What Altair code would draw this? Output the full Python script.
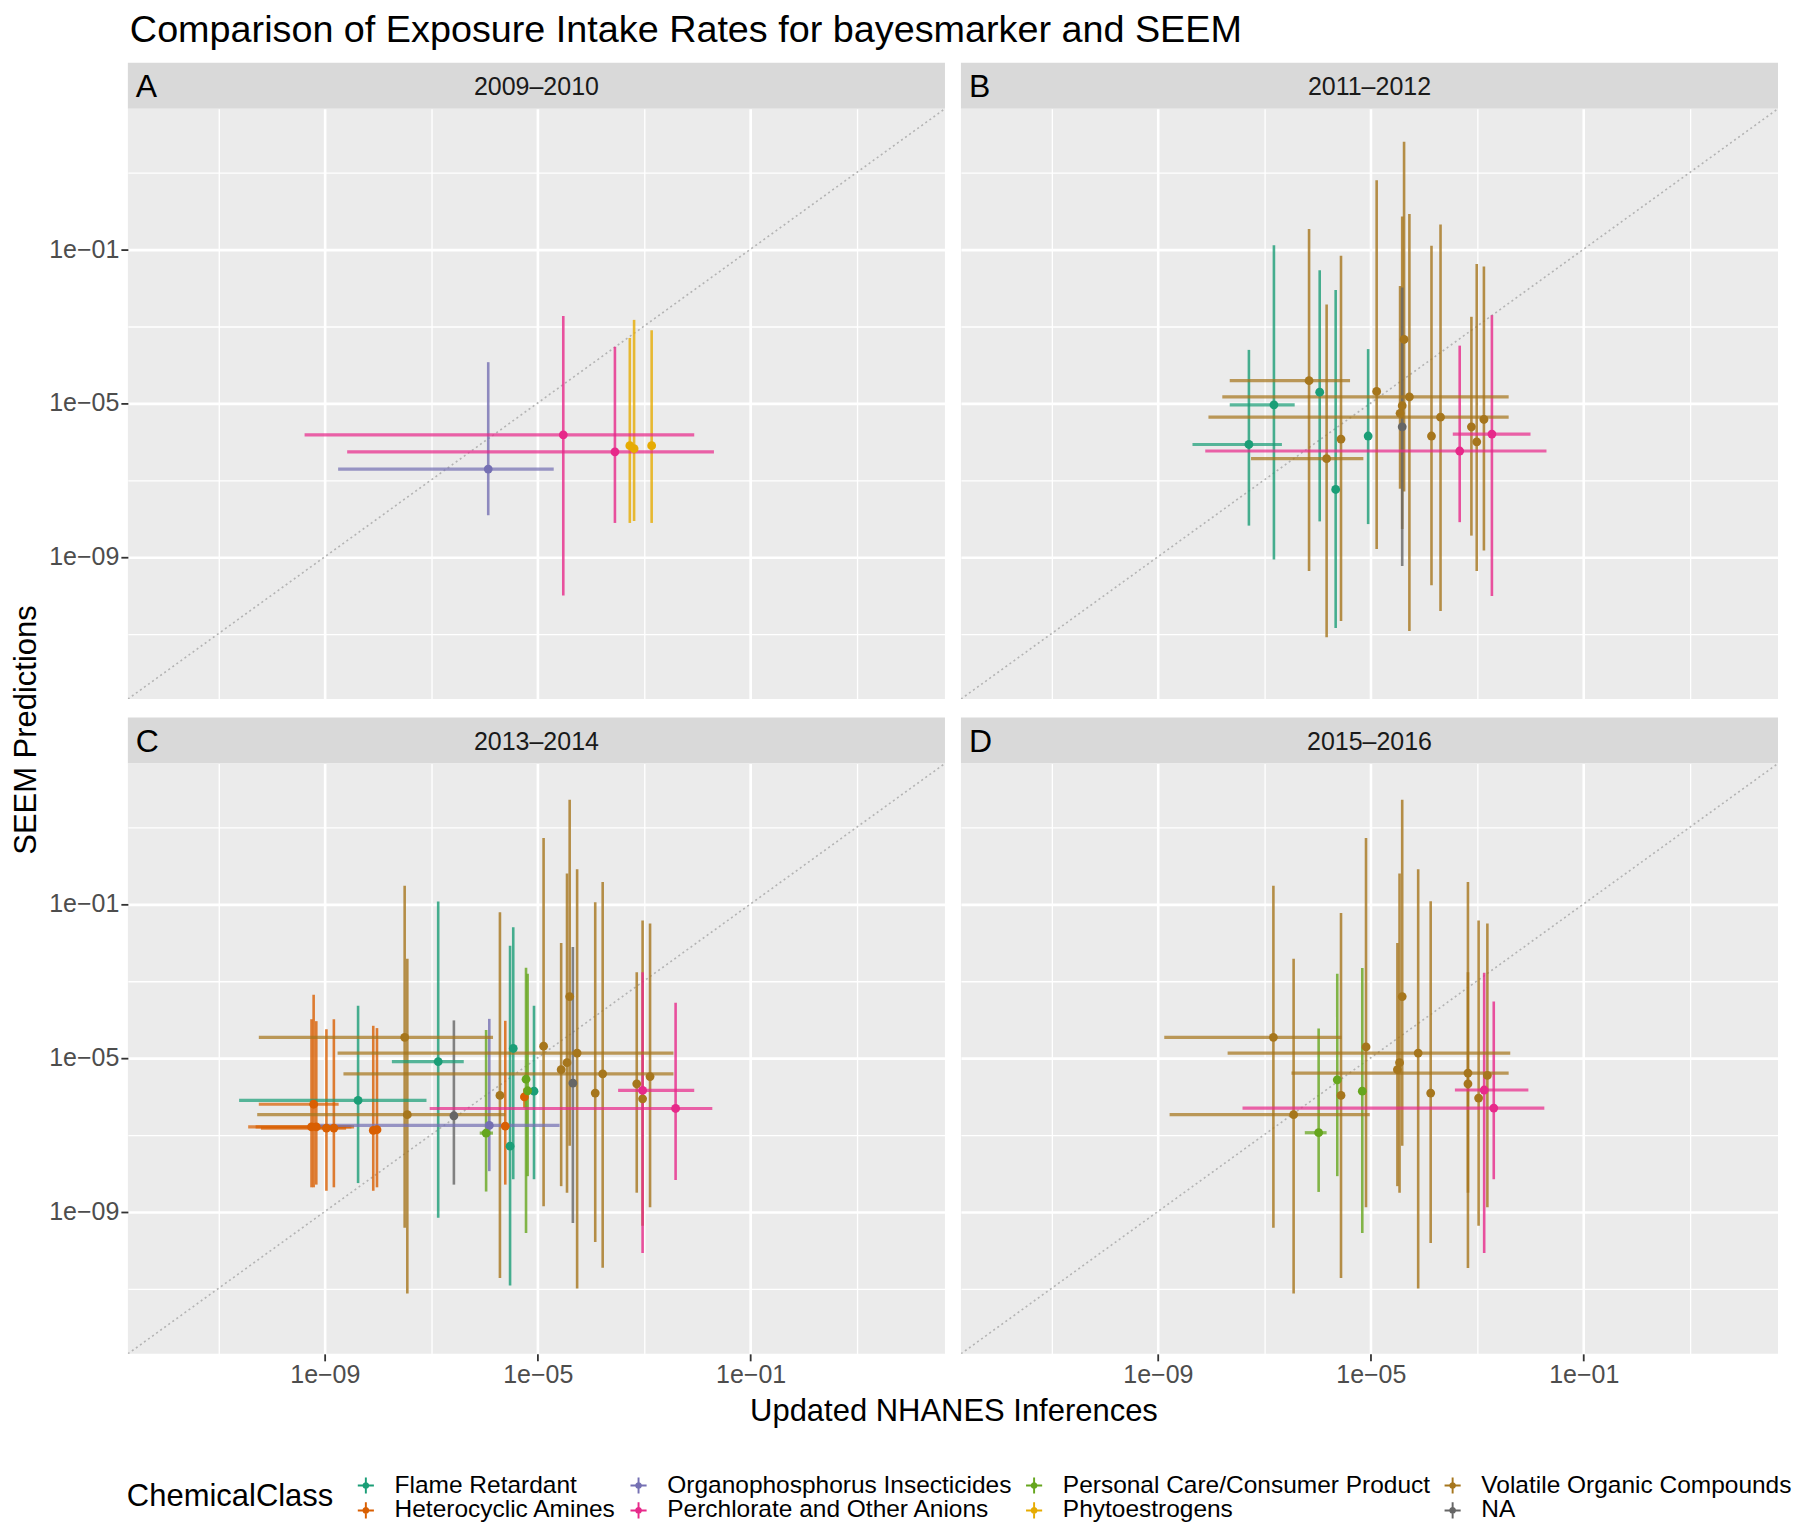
import altair as alt
import pandas as pd

TITLE = "Comparison of Exposure Intake Rates for bayesmarker and SEEM"
X_TITLE = "Updated NHANES Inferences"
Y_TITLE = "SEEM Predictions"
LEGEND_TITLE = "ChemicalClass"

CLASS_NAMES = {
    "FR": "Flame Retardant",
    "HA": "Heterocyclic Amines",
    "OP": "Organophosphorus Insecticides",
    "PC": "Perchlorate and Other Anions",
    "PCCP": "Personal Care/Consumer Product",
    "PH": "Phytoestrogens",
    "VOC": "Volatile Organic Compounds",
    "NA": "NA",
}
# legend is 2 rows x 4 columns, filled column by column
LEGEND_DOMAIN = ["Flame Retardant", "Organophosphorus Insecticides", "Personal Care/Consumer Product",
                 "Volatile Organic Compounds", "Heterocyclic Amines", "Perchlorate and Other Anions",
                 "Phytoestrogens", "NA"]
LEGEND_RANGE = ["#1B9E77", "#7570B3", "#66A61E", "#A6761D", "#D95F02", "#E7298A", "#E6AB02", "#666666"]

PANEL_LETTERS = ["A", "B", "C", "D"]
PANEL_PERIODS = ["2009\u20132010", "2011\u20132012", "2013\u20132014", "2015\u20132016"]

# axis limits and ticks (log10 units)
LOG_LIMITS = [-12.7, 2.65]
TICK_EXPONENTS = [-11, -9, -7, -5, -3, -1, 1]

# ---- values in log10 units ----
# Panel A: 2009-2010
A_cls = ["OP", "PC", "PC", "PH", "PH", "PH"]
A_x = [-5.93, -4.52, -3.55, -3.27, -3.19, -2.86]
A_y = [-6.72, -5.83, -6.27, -6.11, -6.19, -6.11]
A_ylo = [-7.92, -10.01, -8.12, -8.12, -8.07, -8.12]
A_yhi = [-3.94, -2.74, -3.54, -3.31, -2.84, -3.11]
A_xlo = [-8.75, -9.38, -8.58, None, None, None]
A_xhi = [-4.70, -2.06, -1.69, None, None, None]

# Panel B: 2011-2012
B_cls = ["FR", "FR", "FR", "FR", "FR",
         "VOC", "VOC", "VOC", "VOC", "VOC", "VOC", "VOC", "VOC", "VOC", "VOC", "VOC", "VOC", "VOC",
         "PC", "PC", "NA"]
B_x = [-7.29, -6.82, -5.96, -5.66, -5.05,
       -6.16, -5.83, -5.56, -4.89, -4.375, -4.275, -4.41, -4.45, -3.86, -3.69, -3.11, -3.01, -2.875,
       -3.33, -2.725, -4.41]
B_y = [-6.08, -5.05, -4.72, -7.25, -5.86,
       -4.42, -6.45, -5.94, -4.70, -3.35, -4.84, -5.07, -5.27, -5.86, -5.37, -5.62, -6.01, -5.43,
       -6.25, -5.81, -5.62]
B_ylo = [-8.19, -9.07, -8.08, -10.85, -8.15,
         -9.37, -11.09, -10.67, -8.80, -7.30, -10.93, -8.28, -7.23, -9.74, -10.41, -8.45, -9.37, -8.84,
         -8.10, -10.02, -9.24]
B_yhi = [-3.62, -0.90, -1.55, -2.06, -3.60,
         -0.48, -2.44, -1.17, 0.79, 1.79, -0.085, -0.15, -1.96, -0.91, -0.36, -2.76, -1.39, -1.45,
         -3.51, -2.72, -2.00]
B_xlo = [-8.35, -7.65, None, None, None,
         -7.65, -7.25, None, None, None, -7.79, None, None, None, -8.05, None, None, None,
         -8.11, -3.46, None]
B_xhi = [-6.67, -6.43, None, None, None,
         -5.39, -5.14, None, None, None, -2.41, None, None, None, -2.41, None, None, None,
         -1.70, -2.00, None]

# Panel C: 2013-2014
C_cls = ["HA", "HA", "HA", "HA", "HA", "HA", "HA", "HA", "HA",
         "FR", "FR", "FR", "FR", "FR",
         "VOC", "VOC", "VOC", "VOC", "VOC", "VOC", "VOC", "VOC", "VOC", "VOC", "VOC", "VOC", "VOC",
         "NA", "NA", "OP", "PCCP", "PCCP", "PCCP", "PC", "PC"]
C_x = [-9.21, -9.25, -9.16, -8.97, -8.83, -8.09, -8.02, -5.61, -5.25,
       -8.375, -6.87, -5.46, -5.52, -5.07,
       -7.50, -7.45, -5.71, -4.89, -4.56, -4.45, -4.40, -4.26, -3.78, -3.92, -3.14, -3.03, -2.89,
       -6.575, -4.34, -5.91, -5.97, -5.22, -5.19, -3.03, -2.41]
C_y = [-6.21, -6.80, -6.80, -6.83, -6.83, -6.89, -6.87, -6.78, -6.02,
       -6.11, -5.10, -4.76, -7.30, -5.87,
       -4.47, -6.48, -5.98, -4.70, -5.31, -5.13, -3.41, -4.88, -5.42, -5.92, -5.68, -6.07, -5.49,
       -6.51, -5.66, -6.76, -6.96, -5.56, -5.86, -5.85, -6.32]
C_ylo = [-8.37, -8.37, -8.30, -8.46, -8.37, -8.46, -8.37, -8.30, -6.30,
         -8.26, -9.16, -8.16, -10.92, -8.16,
         -9.42, -11.13, -10.73, -8.86, -8.34, -8.51, -7.29, -11.00, -10.46, -9.79, -8.51, -9.37, -8.89,
         -8.30, -9.30, -7.95, -8.48, -9.56, -8.08, -10.08, -8.18]
C_yhi = [-3.36, -4.00, -4.05, -4.26, -4.00, -4.17, -4.23, -4.04, -5.80,
         -3.65, -0.94, -1.61, -2.09, -3.65,
         -0.53, -2.43, -1.22, 0.71, -2.02, -0.21, 1.71, -0.10, -0.43, -0.96, -2.78, -1.43, -1.51,
         -4.03, -2.12, -3.99, -4.28, -2.66, -2.82, -2.78, -3.57]
C_xlo = [-10.24, -10.44, -10.30, -10.20, None, None, None, None, None,
         -10.61, -7.74, None, None, None,
         -10.24, -10.27, None, None, None, None, None, -8.76, -8.65, None, None, None, None,
         None, None, -9.16, -6.09, None, None, -3.49, -7.03]
C_xhi = [-8.74, -8.50, -8.45, -8.60, None, None, None, None, None,
         -7.09, -6.39, None, None, None,
         -5.84, -5.61, None, None, None, None, None, -2.45, -2.45, None, None, None, None,
         None, None, -4.59, -5.84, None, None, -2.06, -1.72]

# Panel D: 2015-2016
D_cls = ["VOC", "VOC", "VOC", "VOC", "VOC", "VOC", "VOC", "VOC", "VOC", "VOC", "VOC", "VOC", "VOC",
         "PCCP", "PCCP", "PCCP", "PC", "PC"]
D_x = [-6.83, -6.45, -5.56, -5.09, -4.50, -4.46, -4.41, -4.11, -3.875, -3.175, -3.175, -2.975, -2.81,
       -5.98, -5.63, -5.16, -2.87, -2.69]
D_y = [-4.47, -6.48, -5.98, -4.72, -5.31, -5.13, -3.41, -4.88, -5.92, -5.40, -5.68, -6.05, -5.46,
       -6.95, -5.575, -5.87, -5.84, -6.31]
D_ylo = [-9.42, -11.13, -10.73, -8.89, -8.34, -8.51, -7.29, -11.00, -9.82, -10.47, -8.51, -9.37, -8.89,
         -8.49, -8.08, -9.56, -10.08, -8.16]
D_yhi = [-0.53, -2.43, -1.24, 0.71, -2.02, -0.21, 1.71, -0.10, -0.93, -0.43, -2.78, -1.43, -1.51,
         -4.24, -2.82, -2.67, -2.79, -3.54]
D_xlo = [-8.88, -8.78, None, None, None, None, None, -7.69, None, -6.49, None, None, None,
         -6.24, None, None, -3.42, -7.41]
D_xhi = [-5.55, -5.02, None, None, None, None, None, -2.38, None, -2.41, None, None, None,
         -5.83, None, None, -2.04, -1.74]

PANEL_DATA = [
    (A_cls, A_x, A_y, A_ylo, A_yhi, A_xlo, A_xhi),
    (B_cls, B_x, B_y, B_ylo, B_yhi, B_xlo, B_xhi),
    (C_cls, C_x, C_y, C_ylo, C_yhi, C_xlo, C_xhi),
    (D_cls, D_x, D_y, D_ylo, D_yhi, D_xlo, D_xhi),
]

# ---- layout constants ----
PW, PH = 818, 591      # plot area of one panel
SH = 46                # strip height
HSPACE = 16
VSPACE = 18.5
FONT = "Liberation Sans"


def p10(v):
    return None if v is None else 10.0 ** v


DOMAIN = [p10(LOG_LIMITS[0]), p10(LOG_LIMITS[1])]
TICK_VALUES = [p10(e) for e in TICK_EXPONENTS]
EXP = "round(log(datum.value) / LN10)"
MAJOR_TEST = EXP + " % 4 == -1"
LABEL_EXPR = ("(" + MAJOR_TEST + ") ? '1e\u2212' + (abs(" + EXP + ") < 10 ? '0' : '') + abs(" + EXP + ") : ''")


def make_axis(show):
    kw = dict(values=TICK_VALUES, grid=True, gridColor="white",
              gridWidth={"condition": {"test": MAJOR_TEST, "value": 2.6}, "value": 1.3},
              domain=False, title=None, labelFlush=False, labelOverlap=False)
    if show:
        kw.update(labels=True, ticks=True, tickSize=7, tickWidth=1.8,
                  tickColor={"condition": {"test": MAJOR_TEST, "value": "#333333"},
                             "value": "rgba(0,0,0,0)"},
                  labelExpr=LABEL_EXPR, labelFontSize=25, labelColor="#4D4D4D",
                  labelPadding=2, labelFont=FONT)
    else:
        kw.update(labels=False, ticks=False)
    return alt.Axis(**kw)


XS = alt.Scale(type="log", domain=DOMAIN, nice=False)
YS = alt.Scale(type="log", domain=DOMAIN, nice=False)

SYMBOL_PATH = ("M-1,-0.12H1V0.12H-1Z M-0.12,-1H0.12V1H-0.12Z "
               "M0.42,0A0.42,0.42,0,1,1,-0.42,0A0.42,0.42,0,1,1,0.42,0Z")

LEGEND = alt.Legend(
    title=LEGEND_TITLE, orient="none", legendX=119, legendY=1412,
    direction="horizontal", columns=4, titleOrient="left",
    titleFontSize=31, titleFontWeight="normal", titleColor="black", titleFont=FONT,
    titlePadding=20, titleAnchor="middle", titleBaseline="middle", titleLimit=0,
    labelFontSize=24.5, labelColor="black", labelFont=FONT, labelLimit=0, labelOffset=16.5,
    symbolType=SYMBOL_PATH, symbolSize=260, symbolStrokeWidth=0, symbolOpacity=1,
    rowPadding=0, columnPadding=10, padding=0,
)

COLOR = alt.Color("cls:N", scale=alt.Scale(domain=LEGEND_DOMAIN, range=LEGEND_RANGE), legend=LEGEND)


def make_plot(i, show_x, show_y):
    cls, x, y, ylo, yhi, xlo, xhi = PANEL_DATA[i]
    names = [CLASS_NAMES[c] for c in cls]
    pts = pd.DataFrame({"cls": names, "x": [p10(v) for v in x], "y": [p10(v) for v in y],
                        "ylo": [p10(v) for v in ylo], "yhi": [p10(v) for v in yhi]})
    hb = pd.DataFrame({"cls": names, "y": [p10(v) for v in y],
                       "xlo": [p10(v) for v in xlo], "xhi": [p10(v) for v in xhi]})
    hb = hb[hb["xlo"].notna()].reset_index(drop=True)
    diag = pd.DataFrame({"d": DOMAIN})

    xa, ya = make_axis(show_x), make_axis(show_y)

    line = alt.Chart(diag).mark_line(color="#B3B3B3", strokeWidth=1.6, strokeDash=[2, 3], clip=True).encode(
        x=alt.X("d:Q", scale=XS, axis=xa),
        y=alt.Y("d:Q", scale=YS, axis=ya),
    )
    vr = alt.Chart(pts).mark_rule(strokeWidth=2.6, opacity=0.8, clip=True).encode(
        x=alt.X("x:Q", scale=XS, axis=xa),
        y=alt.Y("ylo:Q", scale=YS, axis=ya),
        y2="yhi:Q",
        color=COLOR,
    )
    hr = alt.Chart(hb).mark_rule(strokeWidth=3.2, opacity=0.72, clip=True).encode(
        x=alt.X("xlo:Q", scale=XS, axis=xa),
        x2="xhi:Q",
        y=alt.Y("y:Q", scale=YS, axis=ya),
        color=COLOR,
    )
    dots = alt.Chart(pts).mark_circle(size=78, opacity=1, clip=True).encode(
        x=alt.X("x:Q", scale=XS, axis=xa),
        y=alt.Y("y:Q", scale=YS, axis=ya),
        color=COLOR,
    )
    return alt.layer(line, vr, hr, dots).properties(
        width=PW, height=PH, view=alt.ViewBackground(fill="#EBEBEB", strokeWidth=0))


def make_strip(i):
    sd = pd.DataFrame({"letter": [PANEL_LETTERS[i]], "period": [PANEL_PERIODS[i]]})
    base = alt.Chart(sd)
    rect = base.mark_rect(color="#D9D9D9").encode(
        x=alt.value(0), x2=alt.value(PW), y=alt.value(0), y2=alt.value(SH))
    per = base.mark_text(fontSize=25, color="#1A1A1A", font=FONT).encode(
        x=alt.value(PW / 2), y=alt.value(SH / 2 + 1), text="period:N")
    let = base.mark_text(fontSize=32, color="black", font=FONT, align="left").encode(
        x=alt.value(8), y=alt.value(SH / 2 + 1), text="letter:N")
    return alt.layer(rect, per, let).properties(width=PW, height=SH)


def make_panel(i, show_x, show_y):
    return alt.vconcat(make_strip(i), make_plot(i, show_x, show_y), spacing=0)


row1 = alt.hconcat(make_panel(0, False, True), make_panel(1, False, False), spacing=HSPACE)
row2 = alt.hconcat(make_panel(2, True, True), make_panel(3, True, False), spacing=HSPACE)
grid = alt.vconcat(row1, row2, spacing=VSPACE)

xtitle = alt.Chart(pd.DataFrame({"t": [X_TITLE]})).mark_text(fontSize=31, color="black", font=FONT).encode(
    text="t:N", x=alt.value(827), y=alt.value(22)).properties(width=2 * PW + HSPACE, height=40)

column = alt.vconcat(grid, xtitle, spacing=2)

TOTAL_H = 2 * (SH + PH) + VSPACE
ytitle = alt.Chart(pd.DataFrame({"t": [Y_TITLE]})).mark_text(angle=270, fontSize=31, color="black", font=FONT).encode(
    text="t:N", x=alt.value(19), y=alt.value(668)).properties(width=36, height=TOTAL_H)

chart = alt.hconcat(ytitle, column, spacing=4).properties(
    title=alt.TitleParams(TITLE, anchor="start", fontSize=37.8, fontWeight="normal", color="black",
                          font=FONT, offset=13, dx=122),
    padding={"left": 0, "top": 3, "right": 0, "bottom": 0},
).configure(font=FONT).configure_view(strokeWidth=0)

chart.save("out.html", embed_options={"renderer": "svg", "actions": False})
